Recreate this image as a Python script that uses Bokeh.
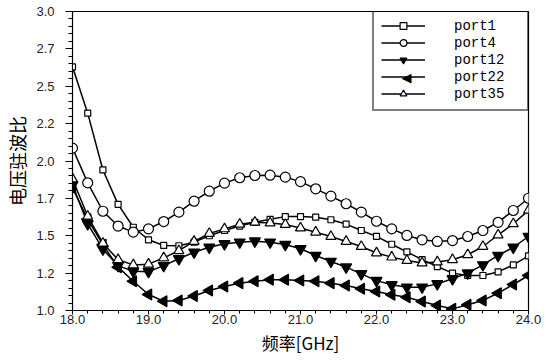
import math
from bokeh.plotting import figure
from bokeh.models import FixedTicker, Legend, LegendItem, Label
from bokeh.embed import file_html
from bokeh.resources import INLINE

freq = [18.0, 18.2, 18.4, 18.6, 18.8, 19.0, 19.2, 19.4, 19.6, 19.8,
        20.0, 20.2, 20.4, 20.6, 20.8, 21.0, 21.2, 21.4, 21.6, 21.8,
        22.0, 22.2, 22.4, 22.6, 22.8, 23.0, 23.2, 23.4, 23.6, 23.8, 24.0]

port1 = [2.63, 2.32, 1.94, 1.71, 1.557, 1.473, 1.435, 1.433, 1.457, 1.50,
         1.535, 1.565, 1.59, 1.61, 1.628, 1.628, 1.624, 1.607, 1.578, 1.535,
         1.496, 1.443, 1.392, 1.34, 1.294, 1.25, 1.234, 1.234, 1.258, 1.305, 1.365]

port4 = [2.086, 1.854, 1.664, 1.565, 1.524, 1.546, 1.595, 1.658, 1.731, 1.798,
         1.852, 1.888, 1.903, 1.905, 1.892, 1.862, 1.814, 1.765, 1.714, 1.658,
         1.597, 1.546, 1.502, 1.473, 1.462, 1.468, 1.495, 1.535, 1.59, 1.669, 1.751]

port12 = [1.84, 1.58, 1.41, 1.30, 1.262, 1.26, 1.30, 1.346, 1.39, 1.423,
          1.446, 1.457, 1.464, 1.457, 1.441, 1.413, 1.368, 1.328, 1.29, 1.245,
          1.20, 1.172, 1.156, 1.156, 1.178, 1.212, 1.25, 1.305, 1.368, 1.423, 1.495]

port22 = [1.82, 1.61, 1.44, 1.29, 1.196, 1.107, 1.062, 1.067, 1.097, 1.134,
          1.16, 1.183, 1.196, 1.205, 1.205, 1.20, 1.196, 1.183, 1.167, 1.145,
          1.127, 1.105, 1.089, 1.06, 1.033, 1.011, 1.038, 1.067, 1.116, 1.174, 1.234]

port35 = [1.88, 1.63, 1.45, 1.34, 1.305, 1.31, 1.352, 1.40, 1.462, 1.515,
          1.546, 1.577, 1.59, 1.585, 1.575, 1.552, 1.524, 1.495, 1.462, 1.428,
          1.385, 1.357, 1.334, 1.318, 1.325, 1.34, 1.373, 1.428, 1.505, 1.58, 1.67]

x_ticks = [18.0, 19.0, 20.0, 21.0, 22.0, 23.0, 24.0]
x_tick_labels = ["18.0", "19.0", "20.0", "21.0", "22.0", "23.0", "24.0"]
x_minor = [18.2, 18.4, 18.6, 18.8, 19.2, 19.4, 19.6, 19.8, 20.2, 20.4, 20.6, 20.8,
           21.2, 21.4, 21.6, 21.8, 22.2, 22.4, 22.6, 22.8, 23.2, 23.4, 23.6, 23.8]
y_ticks = [1.0, 1.25, 1.5, 1.75, 2.0, 2.25, 2.5, 2.75, 3.0]
y_tick_labels = ["1.0", "1.2", "1.5", "1.7", "2.0", "2.2", "2.5", "2.7", "3.0"]
y_minor = [1.05, 1.1, 1.15, 1.2, 1.3, 1.35, 1.4, 1.45, 1.55, 1.6, 1.65, 1.7,
           1.8, 1.85, 1.9, 1.95, 2.05, 2.1, 2.15, 2.2, 2.3, 2.35, 2.4, 2.45,
           2.55, 2.6, 2.65, 2.7, 2.8, 2.85, 2.9, 2.95]

series_names = ["port1", "port4", "port12", "port22", "port35"]
series_data = [port1, port4, port12, port22, port35]
styles = [
    dict(marker="square", size=6, fill="white", angle=0.0),
    dict(marker="circle", size=10, fill="white", angle=0.0),
    dict(marker="inverted_triangle", size=11, fill="black", angle=0.0),
    dict(marker="triangle", size=11, fill="black", angle=math.pi / 2),
    dict(marker="triangle", size=10, fill="white", angle=0.0),
]

FW, FH = 456, 299
p = figure(frame_width=FW, frame_height=FH, x_range=(18.0, 24.0), y_range=(1.0, 3.0),
           output_backend="svg", toolbar_location=None,
           min_border_left=72, min_border_right=20, min_border_top=11, min_border_bottom=40)
p.background_fill_color = "white"
p.border_fill_color = "white"
p.outline_line_color = "black"
p.outline_line_width = 1.2
p.xgrid.visible = False
p.ygrid.visible = False

LEG_X, LEG_Y = 300, 199
LEG_PAD, ROW_H = 7, 17

items = []
for name, ys, st in zip(series_names, series_data, styles):
    ln = p.line(freq, ys, line_color="black", line_width=1.5)
    angles = [st["angle"]] * len(freq)
    sc = p.scatter(x=freq, y=ys, angle=angles, marker=st["marker"], size=st["size"],
                   line_color="black", line_width=1.2, fill_color=st["fill"])
    if st["angle"] != 0.0:
        items.append(LegendItem(label=name, renderers=[ln]))
    else:
        items.append(LegendItem(label=name, renderers=[ln, sc]))

# left-pointing key for port22 (Bokeh legend keys cannot be rotated);
# the legend box is transparent so this shows through it
leg_h = 2 * LEG_PAD + 5 * ROW_H
key = Label(x=LEG_X + 34, y=LEG_Y + leg_h - LEG_PAD - 3.5 * ROW_H + 2,
            x_units="screen", y_units="screen", text="◀",
            text_font="DejaVu Sans", text_font_size="13px", text_color="black",
            text_align="center", text_baseline="middle")
p.add_layout(key)

legend = Legend(items=items, location=(LEG_X, LEG_Y))
legend.padding = LEG_PAD
legend.margin = 0
legend.spacing = 0
legend.glyph_width = 44
legend.glyph_height = ROW_H
legend.label_height = ROW_H
legend.label_width = 66
legend.label_standoff = 29
legend.label_text_font = "Liberation Mono"
legend.label_text_font_size = "14px"
legend.label_text_color = "black"
legend.border_line_color = "black"
legend.border_line_width = 2
legend.background_fill_color = "white"
legend.background_fill_alpha = 0.0
p.add_layout(legend)

# x axis
xa = p.xaxis[0]
xa.ticker = FixedTicker(ticks=x_ticks, minor_ticks=x_minor)
xa.major_label_overrides = dict(zip(x_ticks, x_tick_labels))
xa.axis_label = "频率[GHz]"
xa.axis_label_text_font = "Noto Sans CJK SC"
xa.axis_label_text_font_size = "17px"
xa.axis_label_text_font_style = "normal"
xa.axis_label_text_color = "black"
xa.axis_label_standoff = 3
xa.major_label_text_font = "Liberation Sans"
xa.major_label_text_font_size = "13px"
xa.major_label_text_color = "#222222"
xa.major_label_standoff = 0
xa.major_tick_in = 0
xa.major_tick_out = 4
xa.minor_tick_in = 0
xa.minor_tick_out = 3
xa.axis_line_color = "black"
xa.major_tick_line_color = "black"
xa.minor_tick_line_color = "black"

# y axis
ya = p.yaxis[0]
ya.ticker = FixedTicker(ticks=y_ticks, minor_ticks=y_minor)
ya.major_label_overrides = dict(zip(y_ticks, y_tick_labels))
ya.axis_label = "电压驻波比"
ya.axis_label_text_font = "Noto Sans CJK SC"
ya.axis_label_text_font_size = "18px"
ya.axis_label_text_font_style = "normal"
ya.axis_label_text_color = "black"
ya.axis_label_standoff = 3
ya.major_label_text_font = "Liberation Sans"
ya.major_label_text_font_size = "13px"
ya.major_label_text_color = "#222222"
ya.major_label_standoff = 11
ya.major_tick_in = 0
ya.major_tick_out = 7
ya.minor_tick_in = 0
ya.minor_tick_out = 4
ya.axis_line_color = "black"
ya.major_tick_line_color = "black"
ya.minor_tick_line_color = "black"

open("out.html", "w").write(file_html(p, INLINE))
